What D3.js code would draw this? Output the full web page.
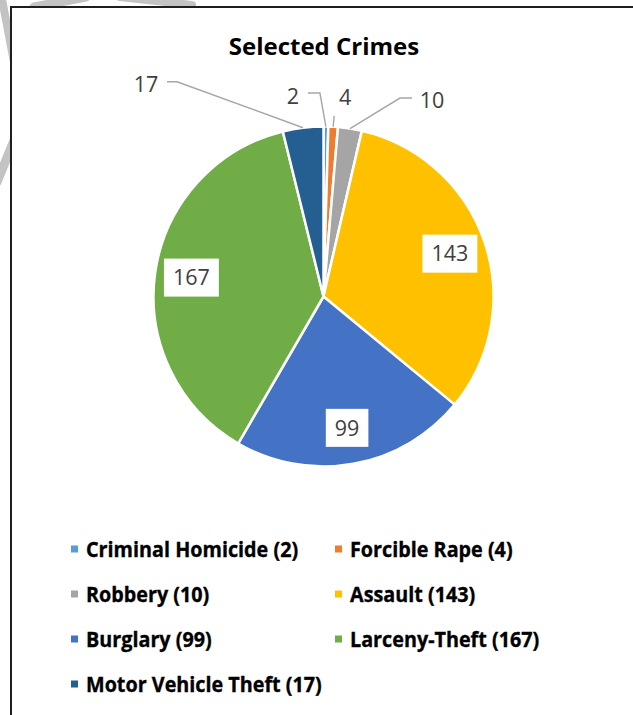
<!DOCTYPE html>
<html>
<head>
<meta charset="utf-8">
<script src="https://cdn.jsdelivr.net/npm/d3@7"></script>
<style>
  html, body { margin: 0; padding: 0; background: #ffffff; }
  svg { display: block; }
</style>
</head>
<body>
<svg id="chart" width="633" height="715"></svg>
<script>
// Chart data
const title = "Selected Crimes";
const categories = ["Criminal Homicide", "Forcible Rape", "Robbery", "Assault",
                    "Burglary", "Larceny-Theft", "Motor Vehicle Theft"];
const values = [2, 4, 10, 143, 99, 167, 17];
const colors = ["#5B9BD5", "#ED7D31", "#A5A5A5", "#FFC000",
                "#4472C4", "#70AD47", "#255E91"];

const rows = categories.map((c, i) => ({ category: c, value: values[i], color: colors[i] }));

const svg = d3.select("#chart");
const W = 633, H = 715;

// Faint grey strokes behind the chart frame (top-left corner)
const marks = svg.append("g").attr("stroke", "#c3c3c3").attr("stroke-linecap", "round").attr("fill", "none");
[[[1, -6], [14, 62], 8], [[15, 138], [-3, 182], 9], [[34, 7], [86, -3], 9], [[120, -3], [192, 5], 8]]
  .forEach(([a, b, w]) => marks.append("line")
    .attr("x1", a[0]).attr("y1", a[1]).attr("x2", b[0]).attr("y2", b[1]).attr("stroke-width", w));

// Chart frame (left and top edges visible)
svg.append("rect").attr("x", 11).attr("y", 7).attr("width", W).attr("height", H)
  .attr("fill", "#ffffff");
svg.append("path")
  .attr("d", `M11,${H} L11,7 L${W},7`)
  .attr("fill", "none").attr("stroke", "#1e1e1e").attr("stroke-width", 2);

// Title
svg.append("text")
  .attr("x", 324).attr("y", 55)
  .attr("text-anchor", "middle")
  .attr("font-family", "'Open Sans', sans-serif")
  .attr("font-weight", 700).attr("font-size", 24)
  .attr("fill", "#000000")
  .text(title);

// Pie
const cx = 323.5, cy = 296.5, R = 170;
const total = d3.sum(values);
const pie = d3.pie().sort(null).value(d => d.value);
const arcs = pie(rows);
const arc = d3.arc().innerRadius(0).outerRadius(R);

const g = svg.append("g").attr("transform", `translate(${cx},${cy})`);
g.selectAll("path.slice")
  .data(arcs)
  .join("path")
  .attr("class", "slice")
  .attr("d", arc)
  .attr("fill", d => d.data.color)
  .attr("stroke", "#ffffff")
  .attr("stroke-width", 2.5)
  .attr("stroke-linejoin", "round");

const labelFont = "'Open Sans', sans-serif";
const labelSize = 21.5;
const midAngle = d => (d.startAngle + d.endAngle) / 2;
const polar = (a, r) => [Math.sin(a) * r, -Math.cos(a) * r];

// Large slices: labels inside on a white box
const inside = arcs.filter(d => d.data.value / total > 0.1);
const labelR = R * 0.785;
inside.forEach(d => {
  const [x, y] = polar(midAngle(d), labelR);
  const lg = g.append("g").attr("transform", `translate(${x},${y})`);
  const t = lg.append("text")
    .attr("text-anchor", "middle")
    .attr("y", labelSize * 0.36)
    .attr("font-family", labelFont).attr("font-size", labelSize)
    .attr("fill", "#404040")
    .text(d.data.value);
  const w = t.node().getComputedTextLength();
  lg.insert("rect", "text")
    .attr("x", -w / 2 - 9).attr("y", -19)
    .attr("width", w + 18).attr("height", 38)
    .attr("fill", "#ffffff");
});

// Small slices: labels outside with leader lines (offsets from the slice's outer edge)
const outsideLayout = {
  "Motor Vehicle Theft": { text: [-157, -43], leader: [[-126, -46], [-136, -46]] },
  "Criminal Homicide":   { text: [-33, -30.5], leader: [[-6, -33.5], [-18, -33.5]] },
  "Forcible Rape":       { text: [12, -30], leader: [[1, -11]] },
  "Robbery":             { text: [82, -28.5], leader: [[50, -30.5], [62, -30.5]] }
};
arcs.filter(d => d.data.value / total <= 0.1).forEach(d => {
  const lay = outsideLayout[d.data.category];
  const [ex, ey] = polar(midAngle(d), R);
  const pts = [[ex, ey]].concat(lay.leader.map(p => [ex + p[0], ey + p[1]]));
  g.append("path")
    .attr("d", d3.line()(pts))
    .attr("fill", "none").attr("stroke", "#a6a6a6").attr("stroke-width", 1.4);
  g.append("text")
    .attr("x", ex + lay.text[0]).attr("y", ey + lay.text[1] + labelSize * 0.36)
    .attr("text-anchor", "middle")
    .attr("font-family", labelFont).attr("font-size", labelSize)
    .attr("fill", "#404040")
    .text(d.data.value);
});

// Legend: two columns, heavy condensed labels
const legendCols = [71, 335];
const legendY0 = 549, legendStep = 45;
const lg = svg.append("g");
rows.forEach((d, i) => {
  const x = legendCols[i % 2];
  const y = legendY0 + Math.floor(i / 2) * legendStep;
  lg.append("rect").attr("x", x).attr("y", y - 3.5).attr("width", 7).attr("height", 7)
    .attr("fill", d.color);
  lg.append("text")
    .attr("transform", `translate(${x + 15},${y + 7.5}) scale(0.92,1)`)
    .attr("font-family", "'Open Sans', sans-serif")
    .attr("font-weight", 700).attr("font-size", 21.5)
    .attr("fill", "#000000")
    .attr("stroke", "#000000").attr("stroke-width", 0.35)
    .text(`${d.category} (${d.value})`);
});
</script>
</body>
</html>
